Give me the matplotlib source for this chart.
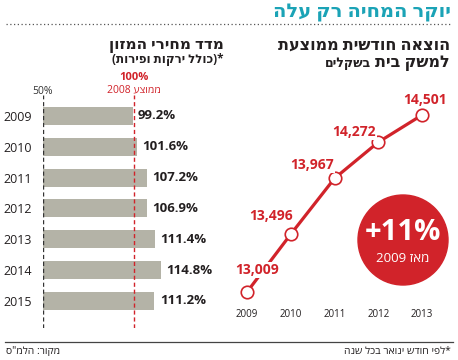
import matplotlib
matplotlib.use("Agg")
import matplotlib.pyplot as plt
from matplotlib.patches import Circle

plt.rcParams['font.family'] = ['Open Sans', 'DejaVu Sans']

# food price index (2008 average = 100%)
bar_years = ['2009', '2010', '2011', '2012', '2013', '2014', '2015']
bar_values = [99.2, 101.6, 107.2, 106.9, 111.4, 114.8, 111.2]

# average monthly household spending (NIS)
line_years = [2009, 2010, 2011, 2012, 2013]
line_values = [13009, 13496, 13967, 14272, 14501]

RED = '#d1232a'
GRAY = '#b4b3a7'
DARK = '#231f20'
TEAL = '#1ba3b6'

W, H = 458, 360
fig = plt.figure(figsize=(W / 100, H / 100), dpi=100)


def fx(x):
    return x / W


def fy(y):
    return 1 - y / H


def heb(s):
    # matplotlib has no bidi support - flip to visual order
    return s[::-1]


# title + dotted rule
fig.text(fx(451), fy(12), heb('יוקר המחיה רק עלה'), ha='right', va='center',
         fontsize=14, fontweight='bold', color=TEAL)
fig.add_artist(plt.Line2D([fx(6), fx(451)], [fy(24), fy(24)], color='#555555',
                          lw=0.9, ls=(0, (1, 2))))

# headings
fig.text(fx(450), fy(46), heb('הוצאה חודשית ממוצעת'), ha='right', va='center',
         fontsize=11.5, fontweight='bold', color=DARK)
t2 = fig.text(fx(450), fy(63), heb('למשק בית'), ha='right', va='center',
              fontsize=11.5, fontweight='bold', color=DARK)
fig.canvas.draw()
left_px = t2.get_window_extent().x0
fig.text((left_px - 4) / W, fy(64), heb('בשקלים'), ha='right', va='center',
         fontsize=9, fontweight='bold', color=DARK)
fig.text(fx(224), fy(46), heb('מדד מחירי המזון'), ha='right', va='center',
         fontsize=11, fontweight='bold', color=DARK)
fig.text(fx(224), fy(59), '(' + heb('כולל ירקות ופירות') + ')*', ha='right',
         va='center', fontsize=8.5, fontweight='bold', color=DARK)

# ---- bar chart ----
bx0, bx1 = 43, 225
by0, by1 = 95, 328
axb = fig.add_axes([fx(bx0), fy(by1), (bx1 - bx0) / W, (by1 - by0) / H])
ppu = 1.82
axb.set_xlim(50, 50 + (bx1 - bx0) / ppu)
step = 30.8
axb.set_ylim((by1 - 116) / step, (by0 - 116) / step)
pos = list(range(len(bar_years)))
axb.barh(pos, [v - 50 for v in bar_values], left=50, height=0.58, color=GRAY)
for p, v in zip(pos, bar_values):
    axb.text(v + 3, p, f'{v:.1f}%', ha='left', va='center', fontsize=9.5,
             fontweight='bold', color=DARK)
axb.axvline(50, color='#333333', lw=1, ls=(0, (3, 2)))
axb.axvline(100, color=RED, lw=1, ls=(0, (3, 2)))
axb.set_yticks(pos)
axb.set_yticklabels(bar_years, fontsize=9, color=DARK)
axb.tick_params(axis='y', length=0, pad=8)
axb.set_xticks([])
for s in axb.spines.values():
    s.set_visible(False)
axb.patch.set_alpha(0)
fig.text(fx(43), fy(91), '50%', ha='center', va='center', fontsize=7.5, color='#333333')
fig.text(fx(134), fy(78), '100%', ha='center', va='center', fontsize=8,
         fontweight='bold', color=RED)
fig.text(fx(134), fy(90), '2008 ' + heb('ממוצע'), ha='center', va='center',
         fontsize=7.5, color=RED)

# ---- line chart ----
lx0, lx1 = 230, 450
ly0, ly1 = 90, 306
axl = fig.add_axes([fx(lx0), fy(ly1), (lx1 - lx0) / W, (ly1 - ly0) / H])
pxy = 43.75
axl.set_xlim(2009 + (lx0 - 247) / pxy, 2013 + (lx1 - 422) / pxy)
ppv = 0.1186
axl.set_ylim(13009 - (ly1 - 292) / ppv, 13009 + (292 - ly0) / ppv)
axl.plot(line_years, line_values, color=RED, lw=2.3, marker='o', ms=9,
         mfc='white', mec=RED, mew=1.2, clip_on=False, zorder=3)
offsets = [(10, 22), (-20, 18), (-22, 13), (-24, 10), (3, 15)]
for x, v, (dx, dy) in zip(line_years, line_values, offsets):
    axl.annotate(f'{v:,}', (x, v), xytext=(dx, dy), textcoords='offset pixels',
                 ha='center', va='center', fontsize=10, fontweight='bold', color=RED,
                 bbox=dict(fc='white', ec='none', pad=0.8), zorder=4)
axl.set_xticks(line_years)
axl.set_xticklabels([str(y) for y in line_years], fontsize=7, color=DARK)
axl.tick_params(axis='x', length=0, pad=2)
axl.set_yticks([])
for s in axl.spines.values():
    s.set_visible(False)
axl.patch.set_alpha(0)

# badge
fig.add_artist(Circle((4.03, 1.20), 0.45, transform=fig.dpi_scale_trans,
                      color=RED, zorder=4))
fig.text(fx(403), fy(232), '+11%', ha='center', va='center', fontsize=21,
         fontweight='bold', color='white', zorder=5)
fig.text(fx(403), fy(259), '2009 ' + heb('מאז'), ha='center', va='center',
         fontsize=9.5, color='white', zorder=5)

# footer
fig.add_artist(plt.Line2D([fx(5), fx(453)], [fy(342), fy(342)], color='#444444', lw=0.9))
fig.text(fx(451), fy(352), heb('*לפי חודש ינואר בכל שנה'), ha='right', va='center',
         fontsize=7.5, color=DARK)
fig.text(fx(6), fy(352), heb('מקור: הלמ"ס'), ha='left', va='center',
         fontsize=7.5, color=DARK)

fig.savefig('out.png', dpi=100)
